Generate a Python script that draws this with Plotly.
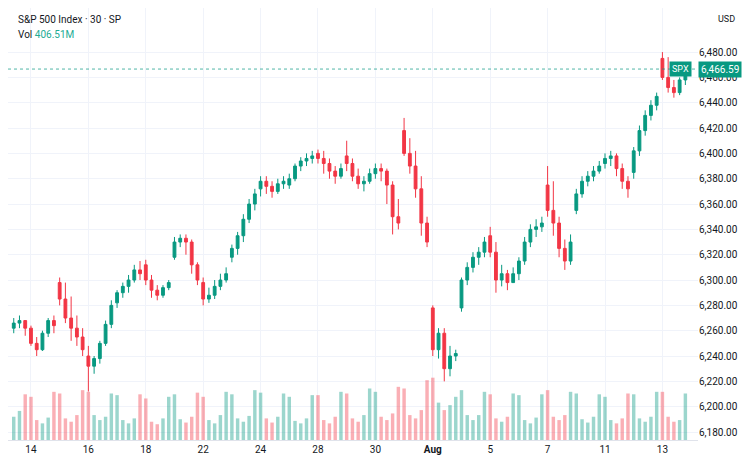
import plotly.graph_objects as go

# Per-day data: (label, open, closes, highs, lows, volumes)
day_labels = ["Jul11","Jul14","Jul15","Jul16","Jul17","Jul18","Jul21","Jul22","Jul23","Jul24","Jul25",
              "Jul28","Jul29","Jul30","Jul31","Aug1","Aug4","Aug5","Aug6","Aug7","Aug8","Aug11","Aug12","Aug13"]
day_opens = [6262,6262,6298,6240,6282,6312,6318,6298,6318,6372,6375,6400,6398,6384,6418,6278,6278,6335,6305,6375,6355,6392,6385,6475]
day_closes = [
 [6266,6268,6262],
 [6250,6245,6258,6268,6264],[6285,6270,6262,6255,6245],[6232,6238,6250,6265,6280],[6290,6295,6300,6308,6305],[6300,6292,6288,6294,6298],
 [6330,6333,6330,6312,6300],[6285,6288,6295,6300,6305],[6325,6335,6348,6360,6368],[6378,6374,6370,6376,6378],[6380,6390,6394,6396,6398],
 [6396,6392,6386,6382,6388],[6392,6382,6376,6378,6384],[6388,6386,6375,6350,6345],[6400,6390,6372,6345,6330],[6245,6258,6230,6240,6242],
 [6300,6310,6318,6322,6330],[6322,6300,6305,6298,6305],[6315,6330,6340,6342,6345],[6355,6345,6325,6315,6330],[6368,6378,6382,6386,6390],
 [6396,6398,6388,6378,6372],[6402,6418,6430,6438,6445],[6460,6452,6448,6458,6467]]
day_highs = [
 [6270,6272,6268],
 [6264,6255,6260,6270,6272],[6302,6298,6287,6272,6262],[6248,6240,6252,6268,6284],[6292,6298,6304,6312,6315],[6316,6304,6296,6296,6300],
 [6334,6336,6336,6332,6314],[6302,6294,6300,6305,6310],[6328,6338,6352,6364,6372],[6382,6382,6378,6380,6382],[6384,6392,6397,6400,6402],
 [6403,6402,6396,6390,6392],[6410,6396,6388,6382,6388],[6392,6392,6388,6378,6364],[6428,6412,6402,6382,6350],[6280,6262,6262,6248,6245],
 [6302,6314,6322,6326,6334],[6342,6330,6312,6308,6310],[6318,6334,6344,6348,6350],[6390,6378,6350,6332,6336],[6372,6382,6386,6390,6394],
 [6400,6402,6400,6392,6382],[6405,6422,6434,6442,6448],[6480,6476,6458,6460,6468]]
day_lows = [
 [6258,6262,6256],
 [6248,6240,6244,6255,6258],[6280,6266,6252,6248,6240],[6212,6226,6234,6248,6262],[6278,6286,6290,6298,6300],[6296,6286,6284,6286,6292],
 [6316,6326,6320,6305,6296],[6280,6282,6285,6292,6298],[6314,6320,6330,6345,6355],[6366,6368,6365,6368,6372],[6372,6378,6386,6390,6392],
 [6392,6384,6380,6376,6380],[6386,6378,6372,6370,6376],[6380,6378,6360,6336,6340],[6398,6384,6365,6335,6326],[6240,6238,6220,6224,6236],
 [6275,6296,6306,6312,6318],[6318,6290,6295,6292,6298],[6300,6312,6326,6334,6338],[6350,6335,6318,6308,6312],[6352,6365,6374,6378,6384],
 [6388,6390,6382,6372,6365],[6380,6398,6414,6426,6434],[6458,6448,6444,6446,6454]]
day_vols = [
 [28,35,55],
 [52,24,20,27,58],[56,26,22,30,60],[58,30,24,28,56],[54,24,20,26,55],[50,22,19,26,52],
 [55,25,21,28,57],[52,24,20,30,58],[55,26,22,29,60],[57,26,21,28,56],[52,23,20,26,54],
 [54,24,20,28,58],[56,26,22,30,62],[58,28,24,32,64],[62,30,26,36,72],[75,45,36,42,52],
 [60,30,24,30,58],[55,26,22,28,56],[54,24,20,27,55],[60,28,24,30,58],[56,25,21,28,55],
 [52,24,20,26,56],[55,26,22,28,58],[58,28,22,24,56]]
x_tick_days = ["Jul14","Jul16","Jul18","Jul22","Jul24","Jul28","Jul30","Aug1","Aug5","Aug7","Aug11","Aug13"]
x_tick_text = ["14","16","18","22","24","28","30","<b>Aug</b>","5","7","11","13"]
y_ticks = [6180,6200,6220,6240,6260,6280,6300,6320,6340,6360,6380,6400,6420,6440,6460,6480]
last_price = 6466.59
vol_text = "406.51M"

o, h, l, c, v, x = [], [], [], [], [], []
day_start = {}
idx = 0
for d, do, cs, hs, ls, vs in zip(day_labels, day_opens, day_closes, day_highs, day_lows, day_vols):
    day_start[d] = idx
    for j in range(len(cs)):
        op = do if j == 0 else cs[j-1]
        o.append(op); c.append(cs[j]); h.append(max(hs[j], op, cs[j])); l.append(min(ls[j], op, cs[j])); v.append(vs[j]); x.append(idx)
        idx += 1

UP, DN = "#089981", "#f23645"
vcol = ["rgba(8,153,129,0.4)" if cc >= oo else "rgba(242,54,69,0.4)" for oo, cc in zip(o, c)]

fig = go.Figure()
fig.add_trace(go.Bar(x=x, y=v, marker_color=vcol, marker_line_width=0, yaxis="y2", width=0.6, hoverinfo="skip"))
fig.add_trace(go.Candlestick(x=x, open=o, high=h, low=l, close=c,
    increasing=dict(line=dict(color=UP, width=1), fillcolor=UP),
    decreasing=dict(line=dict(color=DN, width=1), fillcolor=DN), whiskerwidth=0))

fig.add_hline(y=last_price, line=dict(color="rgba(8,153,129,0.7)", width=1, dash="dot"))

fig.update_layout(
    width=750, height=464, margin=dict(l=0, r=60, t=0, b=32),
    paper_bgcolor="white", plot_bgcolor="white", showlegend=False,
    font=dict(family="Roboto, sans-serif", size=10, color="#131722"),
    xaxis=dict(range=[-1.0, 119.2], rangeslider_visible=False, tickmode="array",
               tickvals=[day_start[d] for d in x_tick_days], ticktext=x_tick_text,
               showgrid=True, gridcolor="#f0f3fa", zeroline=False, ticks="", showline=True, linecolor="#e0e3eb"),
    yaxis=dict(range=[6173.7, 6514.8], side="right", tickformat=",.2f", tickmode="array", tickvals=y_ticks,
               showgrid=True, gridcolor="#f0f3fa", zeroline=False, ticks="", tickfont=dict(size=10)),
    yaxis2=dict(range=[0, 520], overlaying="y", visible=False),
    bargap=0.2,
)
fig.add_annotation(x=0.012, y=0.99, xref="paper", yref="paper", showarrow=False, xanchor="left", yanchor="top",
                   text="S&P 500 Index · 30 · SP", font=dict(size=10, color="#131722"))
fig.add_annotation(x=0.012, y=0.955, xref="paper", yref="paper", showarrow=False, xanchor="left", yanchor="top",
                   text=f"Vol <span style='color:#22ab94'>{vol_text}</span>", font=dict(size=10, color="#131722"))
fig.add_annotation(x=1.0, y=1.0, xref="paper", yref="paper", xshift=18, yshift=-4, showarrow=False, xanchor="left", yanchor="top",
                   text="USD", font=dict(size=9, color="#131722"))
fig.add_annotation(x=1.0, y=last_price, xref="paper", yref="y", xshift=-6, showarrow=False, xanchor="right",
                   text="SPX", bgcolor=UP, font=dict(size=9, color="white"), borderpad=2)
fig.add_annotation(x=1.0, y=last_price, xref="paper", yref="y", xshift=0, showarrow=False, xanchor="left",
                   text=f"{last_price:,.2f}", bgcolor=UP, font=dict(size=10, color="white"), borderpad=2)
fig.write_html("out.html")
